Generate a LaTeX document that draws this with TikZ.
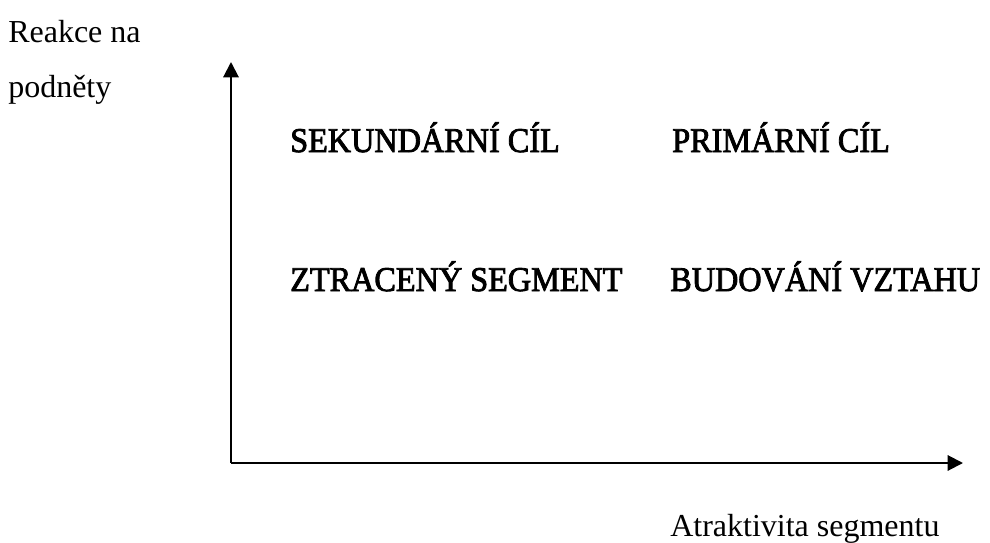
\documentclass[tikz,border=0pt]{standalone}
\usepackage{fontspec}
\setmainfont{Liberation Serif}
\newfontfamily\quadfont{Liberation Serif}[FakeBold=2.5]
\usetikzlibrary{arrows.meta, positioning}

\begin{document}
\begin{tikzpicture}[x=0.75pt, y=-0.75pt,
    axisline/.style={line width=1.5pt, -{Triangle[length=11.5pt, width=11.5pt]}},
    axistext/.style={inner sep=0pt, anchor=base west, font=\fontsize{24}{29}\selectfont},
    quadtext/.style={inner sep=0pt, anchor=base west, xscale=0.93, font=\fontsize{26}{31}\quadfont}]
    \useasboundingbox (0,0) rectangle (990,543);
    % axes
    \coordinate (origin) at (231, 463);
    \coordinate (ytop) at (231, 62);
    \coordinate (xend) at (963, 463);
    \draw[axisline] (origin) -- (ytop);
    \draw[axisline] (origin) -- (xend);
    % axis labels
    \node[axistext] (reakce) at (8, 42) {Reakce na};
    \node[axistext] (podnety) at (8, 97) {podněty};
    \node[axistext] (atrakt) at (670, 536) {Atraktivita segmentu};
    % quadrants
    \node[quadtext] (sekundarni) at (290, 152) {SEKUNDÁRNÍ CÍL};
    \node[quadtext] (primarni) at (672, 152) {PRIMÁRNÍ CÍL};
    \node[quadtext] (ztraceny) at (290, 291) {ZTRACENÝ SEGMENT};
    \node[quadtext] (budovani) at (670, 291) {BUDOVÁNÍ VZTAHU};
\end{tikzpicture}
\end{document}
